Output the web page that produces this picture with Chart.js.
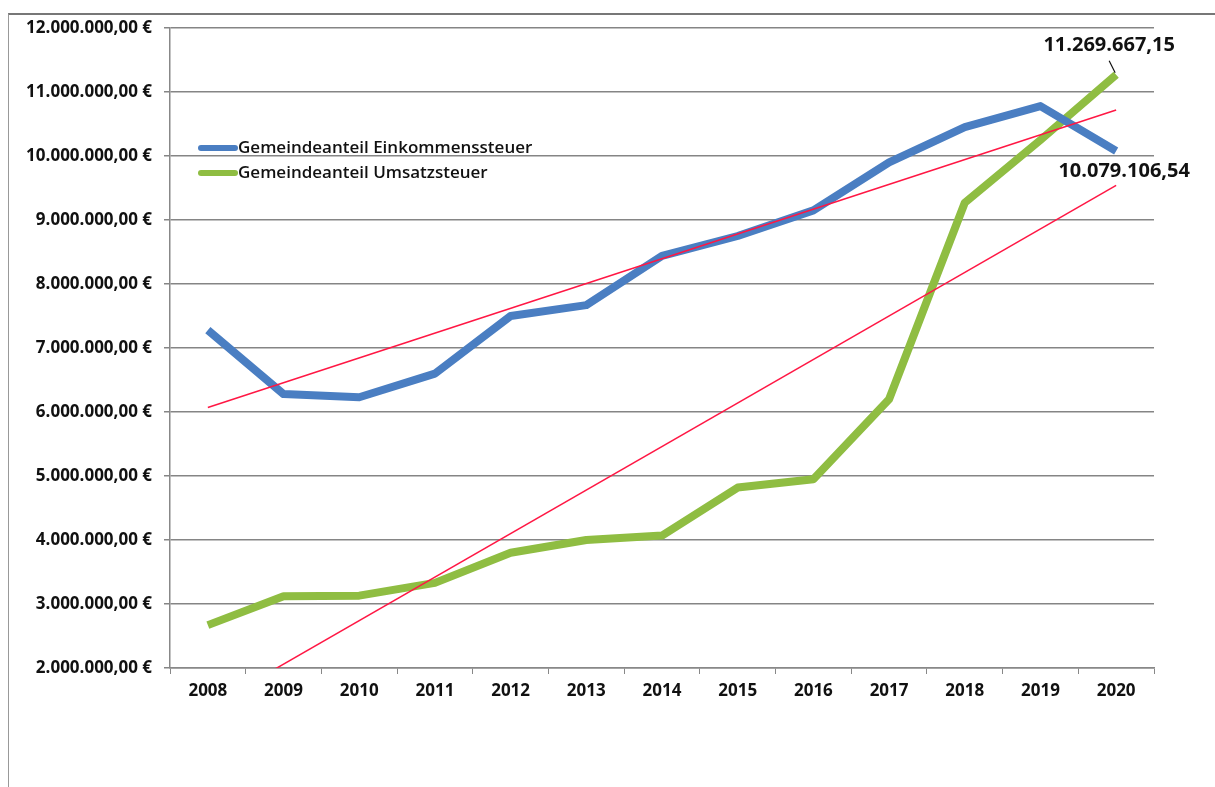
<!DOCTYPE html>
<html>
<head>
<meta charset="utf-8">
<script src="https://cdn.jsdelivr.net/npm/chart.js@4.4.0/dist/chart.umd.min.js"></script>
<style>
body{margin:0;background:#fff;}
#frame{position:absolute;left:8px;top:13px;width:1207px;height:774px;border-top:2px solid #777;border-left:1px solid #999;}
#wrap{position:absolute;left:0;top:0;width:1215px;height:787px;}
</style>
</head>
<body>
<div id="frame"></div>
<div id="wrap"><canvas id="c"></canvas></div>
<script>
// Jahre
var years = ['2008','2009','2010','2011','2012','2013','2014','2015','2016','2017','2018','2019','2020'];
// Gemeindeanteil Einkommenssteuer
var einkommen = [7280000, 6280000, 6230000, 6600000, 7500000, 7670000, 8440000, 8750000, 9150000, 9900000, 10450000, 10780000, 10079106.54];
// Gemeindeanteil Umsatzsteuer
var umsatz = [2670000, 3120000, 3130000, 3330000, 3800000, 4000000, 4070000, 4820000, 4950000, 6200000, 9270000, 10250000, 11269667.15];
// Trendlinien (Anfang 2008, Ende 2020)
var trendEinkommen = [6070000, null, null, null, null, null, null, null, null, null, null, null, 10720000];
var trendUmsatz = [1380000, null, null, null, null, null, null, null, null, null, null, null, 9540000];
var yTicks = [2000000,3000000,4000000,5000000,6000000,7000000,8000000,9000000,10000000,11000000,12000000];

var font = "'Open Sans', 'Liberation Sans', sans-serif";

function euro(v){
  var s = Math.round(v).toString().replace(/\B(?=(\d{3})+(?!\d))/g, '.');
  return s + ',00 €';
}
function num(v){
  var p = v.toFixed(2).split('.');
  return p[0].replace(/\B(?=(\d{3})+(?!\d))/g, '.') + ',' + p[1];
}

var extras = {
  id: 'extras',
  afterDatasetsDraw: function(chart){
    var ctx = chart.ctx;
    var xs = chart.scales.x, ys = chart.scales.y;
    ctx.save();
    // legend inside plot
    var items = [[chart.data.datasets[0].label, chart.data.datasets[0].borderColor, 148],
                 [chart.data.datasets[1].label, chart.data.datasets[1].borderColor, 173]];
    items.forEach(function(it){
      ctx.strokeStyle = it[1];
      ctx.lineWidth = 6;
      ctx.lineCap = 'round';
      ctx.beginPath(); ctx.moveTo(201, it[2]); ctx.lineTo(235, it[2]); ctx.stroke();
      ctx.fillStyle = '#111';
      ctx.font = '600 17px ' + font;
      ctx.textBaseline = 'middle';
      ctx.textAlign = 'left';
      ctx.fillText(it[0], 238, it[2]);
    });
    // value labels at the end
    var last = years.length - 1;
    var xg = xs.getPixelForValue(last), yg = ys.getPixelForValue(umsatz[last]);
    var yb = ys.getPixelForValue(einkommen[last]);
    ctx.font = 'bold 20px ' + font;
    ctx.textAlign = 'center';
    ctx.fillStyle = '#111';
    ctx.fillText(num(umsatz[last]), xg - 7, yg - 29);
    ctx.strokeStyle = '#111'; ctx.lineWidth = 1.2; ctx.lineCap = 'butt';
    ctx.beginPath(); ctx.moveTo(xg - 7, yg - 14); ctx.lineTo(xg - 1, yg - 2); ctx.stroke();
    ctx.fillText(num(einkommen[last]), xg + 8, yb + 20);
    ctx.restore();
  }
};

new Chart(document.getElementById('c'), {
  type: 'line',
  data: {
    labels: years,
    datasets: [
      {label: 'Gemeindeanteil Einkommenssteuer', data: einkommen, borderColor: '#4a7ec2', borderWidth: 8, pointRadius: 0, tension: 0, borderJoinStyle: 'round', borderCapStyle: 'butt', order: 2},
      {label: 'Gemeindeanteil Umsatzsteuer', data: umsatz, borderColor: '#8fbd42', borderWidth: 8, pointRadius: 0, tension: 0, borderJoinStyle: 'round', borderCapStyle: 'butt', order: 2},
      {label: 'Trend Einkommenssteuer', data: trendEinkommen, borderColor: '#ff1744', borderWidth: 1.5, pointRadius: 0, spanGaps: true, order: 1},
      {label: 'Trend Umsatzsteuer', data: trendUmsatz, borderColor: '#ff1744', borderWidth: 1.5, pointRadius: 0, spanGaps: true, order: 1}
    ]
  },
  options: {
    responsive: true,
    maintainAspectRatio: false,
    animation: false,
    layout: {padding: {left: 0, right: 61, top: 28, bottom: 0}},
    plugins: {legend: {display: false}, tooltip: {enabled: false}},
    scales: {
      x: {
        offset: true,
        grid: {offset: true, drawOnChartArea: false, drawTicks: true, tickLength: 6, color: '#888', lineWidth: 1},
        border: {color: '#888', width: 1.5},
        ticks: {color: '#111', font: {family: font, size: 17, weight: 'bold'}, padding: 7, maxRotation: 0},
        afterFit: function(s){ s.height = 119; }
      },
      y: {
        min: 2000000, max: 12000000,
        afterBuildTicks: function(s){ s.ticks = yTicks.map(function(v){ return {value: v}; }); },
        grid: {color: '#858585', lineWidth: 1.5, tickLength: 6},
        border: {color: '#888', width: 1.5},
        ticks: {color: '#111', font: {family: font, size: 17, weight: 'bold'}, padding: 12, callback: function(v){ return euro(v); }},
        afterFit: function(s){ s.width = 170; }
      }
    }
  },
  plugins: [extras]
});
</script>
</body>
</html>
